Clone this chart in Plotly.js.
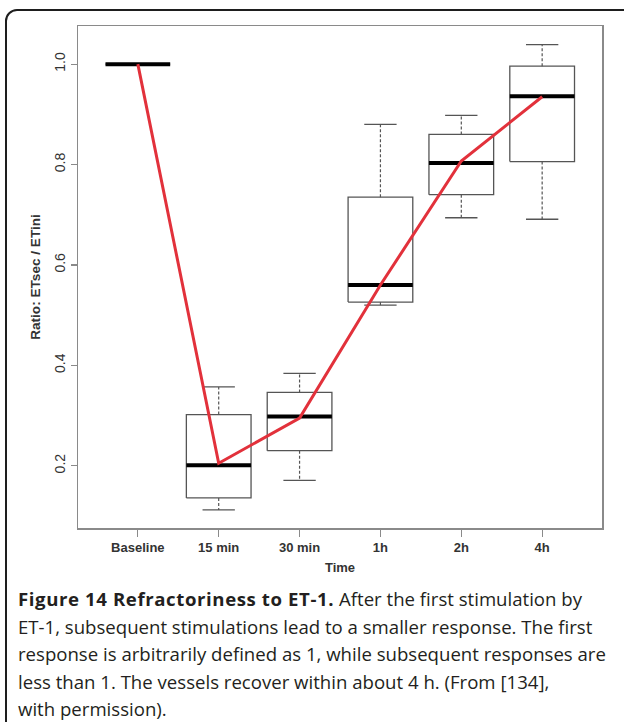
<!DOCTYPE html>
<html>
<head>
<meta charset="utf-8">
<script src="https://cdn.plot.ly/plotly-3.0.1.min.js"></script>
<style>
  html, body { margin: 0; padding: 0; background: #ffffff; }
  #wrap { position: relative; width: 624px; height: 722px; overflow: hidden; background: #fff; }
  #chart { position: absolute; left: 0; top: 0; width: 624px; height: 722px; }
  #frame { position: absolute; left: 5px; top: 9px; width: 660px; height: 760px;
           border: 2px solid #1e1e1e; border-radius: 12px; pointer-events: none; box-sizing: border-box; }
  #caption { position: absolute; left: 18px; top: 585px; width: 610px;
             font-family: "Open Sans", "Noto Sans", sans-serif; font-size: 18.6px; line-height: 27.6px;
             color: #231f20; white-space: nowrap; }
  #caption b { font-weight: 700; letter-spacing: 0.6px; }
</style>
</head>
<body>
<div id="wrap">
  <div id="chart"></div>
  <div id="frame"></div>
  <div id="caption">
    <div class="ln"><b>Figure 14 Refractoriness to ET-1.</b> After the first stimulation by</div>
    <div class="ln">ET-1, subsequent stimulations lead to a smaller response. The first</div>
    <div class="ln">response is arbitrarily defined as 1, while subsequent responses are</div>
    <div class="ln">less than 1. The vessels recover within about 4 h. (From [134],</div>
    <div class="ln">with permission).</div>
  </div>
</div>
<script>
// ---- data ----
const categories   = ["Baseline", "15 min", "30 min", "1h", "2h", "4h"];
const lowerWhisker = [1.000, 0.112, 0.171, 0.520, 0.694, 0.691];
const q1           = [1.000, 0.136, 0.230, 0.526, 0.740, 0.806];
const median       = [1.000, 0.201, 0.298, 0.560, 0.803, 0.936];
const q3           = [1.000, 0.302, 0.346, 0.735, 0.860, 0.996];
const upperWhisker = [1.000, 0.357, 0.384, 0.880, 0.898, 1.039];
const trend        = [1.000, 0.205, 0.295, 0.560, 0.807, 0.935];
const yTicks       = [0.2, 0.4, 0.6, 0.8, 1.0];

// ---- build shapes from data ----
const pos = categories.map((c, i) => i + 1);
const halfBox = 0.4, halfCap = 0.2;
const boxX = [], boxY = [], wX = [], wY = [], cX = [], cY = [], mX = [], mY = [];
pos.forEach((p, i) => {
  boxX.push(p - halfBox, p + halfBox, p + halfBox, p - halfBox, p - halfBox, null);
  boxY.push(q1[i], q1[i], q3[i], q3[i], q1[i], null);
  wX.push(p, p, null, p, p, null);
  wY.push(q1[i], lowerWhisker[i], null, q3[i], upperWhisker[i], null);
  cX.push(p - halfCap, p + halfCap, null, p - halfCap, p + halfCap, null);
  cY.push(lowerWhisker[i], lowerWhisker[i], null, upperWhisker[i], upperWhisker[i], null);
  mX.push(p - halfBox, p + halfBox, null);
  mY.push(median[i], median[i], null);
});

const traces = [
  { type: "scatter", mode: "lines", x: wX, y: wY, line: { color: "#555555", width: 1.2, dash: "3px,2px" }, hoverinfo: "skip", showlegend: false },
  { type: "scatter", mode: "lines", x: cX, y: cY, line: { color: "#555555", width: 1.3 }, hoverinfo: "skip", showlegend: false },
  { type: "scatter", mode: "lines", x: boxX, y: boxY, line: { color: "#555555", width: 1.3 }, hoverinfo: "skip", showlegend: false },
  { type: "scatter", mode: "lines", x: mX, y: mY, line: { color: "#000000", width: 4 }, hoverinfo: "skip", showlegend: false },
  { type: "scatter", mode: "lines", x: pos, y: trend, line: { color: "#e2313b", width: 3 }, hoverinfo: "skip", showlegend: false }
];

const layout = {
  width: 624, height: 722,
  margin: { l: 78, r: 21.5, t: 26, b: 194 },
  paper_bgcolor: "rgba(0,0,0,0)", plot_bgcolor: "#ffffff",
  font: { family: "Liberation Sans, Arial, sans-serif", color: "#333333", size: 13 },
  xaxis: {
    range: [0.26, 6.74], tickmode: "array", tickvals: pos, ticktext: categories,
    showgrid: false, zeroline: false,
    showline: true, mirror: true, linecolor: "#8a8a8a", linewidth: 1.5,
    ticks: "outside", ticklen: 7, tickwidth: 1.2, tickcolor: "#8a8a8a",
    tickfont: { family: "Liberation Sans, Arial, sans-serif", size: 13, color: "#333333", weight: "bold" },
    title: { text: "<b>Time</b>", standoff: 9, font: { size: 13, color: "#333333" } },
    automargin: false
  },
  yaxis: {
    range: [0.076, 1.076], tickmode: "array", tickvals: yTicks, ticktext: yTicks.map(v => v.toFixed(1)),
    showgrid: false, zeroline: false,
    showline: true, mirror: true, linecolor: "#8a8a8a", linewidth: 1.5,
    ticks: "outside", ticklen: 6, tickwidth: 1.2, tickcolor: "#8a8a8a", tickangle: -90,
    tickfont: { family: "Liberation Sans, Arial, sans-serif", size: 14, color: "#333333" },
    title: { text: "<b>Ratio: ETsec / ETini</b>", standoff: 8, font: { size: 13.6, color: "#333333" } },
    automargin: false
  }
};

Plotly.newPlot("chart", traces, layout, { staticPlot: true, displayModeBar: false });
</script>
</body>
</html>
